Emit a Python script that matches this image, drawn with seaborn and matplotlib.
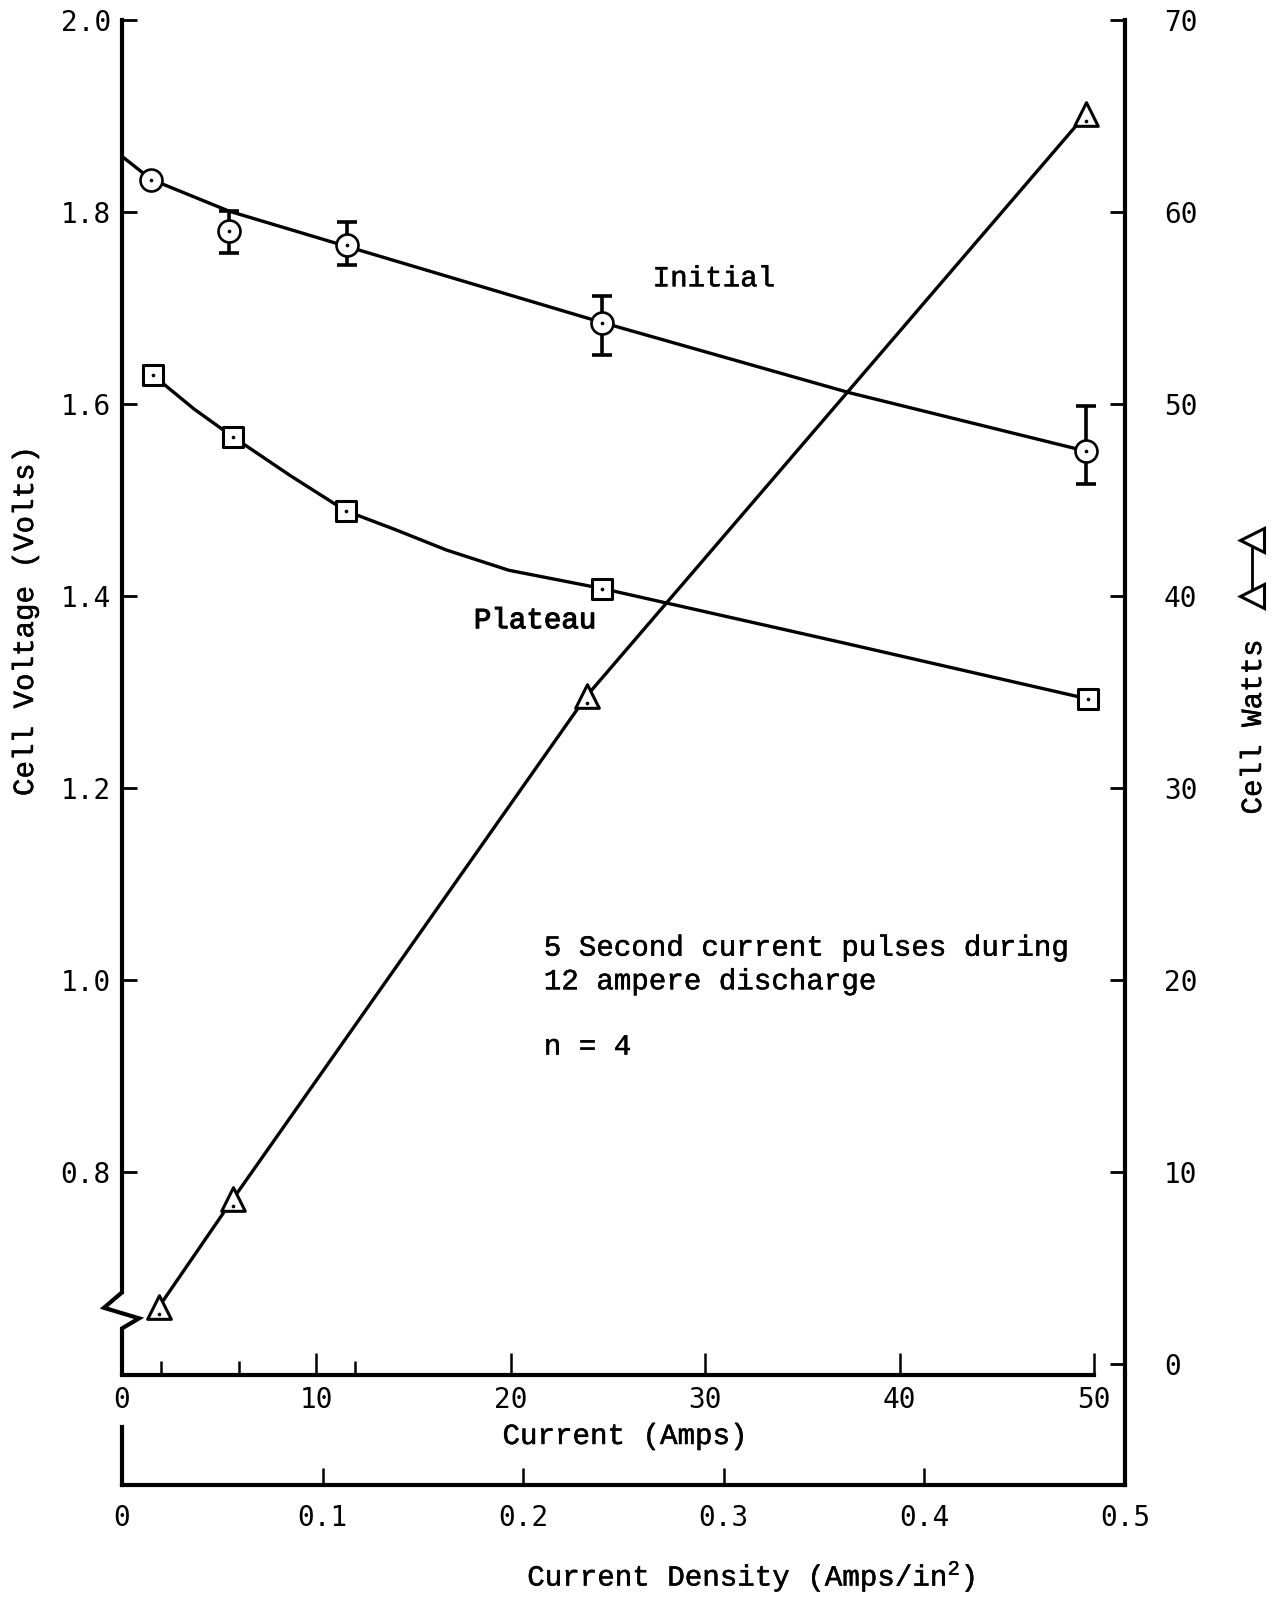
"""
Cell voltage / cell watts vs. pulse current
===========================================
Typewriter-style reproduction of a scanned discharge-pulse chart:
initial and plateau voltage on the left axis, cell watts on the right,
current and current density along the bottom.
"""

import matplotlib
matplotlib.use("Agg")
import matplotlib.pyplot as plt
import matplotlib.patheffects as pe
from matplotlib.lines import Line2D
import seaborn as sns

# ---------------------------------------------------------------------------
# Data
# ---------------------------------------------------------------------------

# Initial voltage (circles) with spread bars
initial_amps = [1.5, 5.5, 11.6, 24.7, 49.6]
initial_volts = [1.833, 1.780, 1.766, 1.684, 1.551]
err_amps = [5.5, 11.6, 24.7, 49.6]
err_mid = [1.780, 1.766, 1.684, 1.551]
err_low = [1.757, 1.745, 1.651, 1.517]
err_high = [1.801, 1.790, 1.713, 1.598]

# hand-drawn curve through the initial points
initial_fit_amps = [0.0, 1.5, 5.5, 11.6, 24.7, 37.4, 49.6]
initial_fit_volts = [1.858, 1.834, 1.801, 1.764, 1.685, 1.612, 1.551]

# Plateau voltage (squares)
plateau_amps = [1.6, 5.7, 11.5, 24.7, 49.7]
plateau_volts = [1.630, 1.566, 1.489, 1.408, 1.293]

plateau_fit_amps = [1.6, 3.7, 5.7, 8.7, 11.5, 14.1, 16.7, 19.9, 24.7, 37.2, 49.7]
plateau_fit_volts = [1.630, 1.595, 1.566, 1.525, 1.489, 1.469, 1.448, 1.427,
                     1.408, 1.351, 1.293]

# Cell watts (triangles)
watts_amps = [1.9, 5.7, 23.9, 49.6]
watts = [3.0, 8.6, 34.8, 65.1]

# Axes
volt_ticks = [0.8, 1.0, 1.2, 1.4, 1.6, 1.8, 2.0]
watt_ticks = [0, 10, 20, 30, 40, 50, 60, 70]
amp_ticks = [0, 10, 20, 30, 40, 50]
amp_marks = [2, 6, 12]
density_ticks = [0, 0.1, 0.2, 0.3, 0.4, 0.5]
density_labels = ["0", "0.1", "0.2", "0.3", "0.4", "0.5"]

note_lines = ["5 Second current pulses during", "12 ampere discharge", "n = 4"]
note_volts = [1.034, 0.999, 0.931]

TYPE = ["Liberation Mono", "DejaVu Sans Mono"]
GOTHIC = ["DejaVu Sans Mono", "DejaVu Sans"]
INK = "black"
LW = 2.4
INKED = [pe.withStroke(linewidth=0.35, foreground=INK)]
TYPE_SIZE = 21

# ---------------------------------------------------------------------------
# Figure
# ---------------------------------------------------------------------------

sns.set_theme(style="ticks", rc={
    "text.color": INK, "axes.labelcolor": INK,
    "xtick.color": INK, "ytick.color": INK, "axes.edgecolor": INK,
})
plt.rcParams["font.family"] = GOTHIC
plt.rcParams["mathtext.fontset"] = "custom"
plt.rcParams["mathtext.rm"] = "Liberation Mono"
plt.rcParams["mathtext.default"] = "rm"

W, H = 1280, 1597
fig = plt.figure(figsize=(W / 100, H / 100), dpi=100)
fig.patch.set_facecolor("white")

ax = fig.add_axes([122 / W, 1 - 1375 / H, 1003 / W, 1355 / H])
ax2 = ax.twinx()
ax_d = fig.add_axes([122 / W, 1 - 1485 / H, 1003 / W, 110 / H])
ax_d.patch.set_alpha(0)

ax.set_xlim(0, 51.6)
ax.set_ylim(0.589, 2.0)
ax2.set_ylim(-0.55, 70)

# --- voltage curves -------------------------------------------------------
sns.lineplot(x=initial_fit_amps, y=initial_fit_volts, ax=ax, color=INK,
             lw=LW, sort=False, estimator=None)
sns.lineplot(x=plateau_fit_amps, y=plateau_fit_volts, ax=ax, color=INK,
             lw=LW, sort=False, estimator=None)

ax.errorbar(err_amps, err_mid,
            yerr=[[m - l for m, l in zip(err_mid, err_low)],
                  [h - m for m, h in zip(err_mid, err_high)]],
            fmt="none", ecolor=INK, elinewidth=2.6,
            capsize=7, capthick=2.6, zorder=3)

sns.scatterplot(x=initial_amps, y=initial_volts, ax=ax, marker="o", s=250,
                color="white", edgecolor=INK, linewidth=1.9, zorder=4)
sns.scatterplot(x=plateau_amps, y=plateau_volts, ax=ax, marker="s", s=200,
                color="white", edgecolor=INK, linewidth=2.2, zorder=4)
for xs, ys in [(initial_amps, initial_volts), (plateau_amps, plateau_volts)]:
    sns.scatterplot(x=xs, y=ys, ax=ax, marker="o", s=7, color=INK,
                    linewidth=0, zorder=5)

# --- watts ---------------------------------------------------------------
sns.lineplot(x=watts_amps, y=watts, ax=ax2, color=INK, lw=LW,
             sort=False, estimator=None)
sns.scatterplot(x=watts_amps, y=watts, ax=ax2, marker="^", s=290,
                color="white", edgecolor=INK, linewidth=2.2, zorder=4)
sns.scatterplot(x=watts_amps, y=[w - 0.35 for w in watts], ax=ax2, marker="o",
                s=7, color=INK, linewidth=0, zorder=5)

# --- annotations ----------------------------------------------------------
ax.text(27.3, 1.731, "Initial", fontsize=TYPE_SIZE, family=TYPE,
        va="center", path_effects=INKED)
ax.text(18.1, 1.375, "Plateau", fontsize=TYPE_SIZE, family=TYPE, va="center",
        path_effects=[pe.withStroke(linewidth=0.8, foreground=INK)])
for line, v in zip(note_lines, note_volts):
    ax.text(21.7, v, line, fontsize=TYPE_SIZE, family=TYPE, va="center",
            path_effects=INKED)

# --- axes styling ---------------------------------------------------------
for s in ["top", "right"]:
    ax.spines[s].set_visible(False)
for s in ["top", "left", "bottom"]:
    ax2.spines[s].set_visible(False)
ax_d.spines["top"].set_visible(False)
for a, names in [(ax, ["left", "bottom"]), (ax2, ["right"]),
                 (ax_d, ["left", "right", "bottom"])]:
    for s in names:
        a.spines[s].set_linewidth(3)

# left axis with a break near the bottom
ax.spines["left"].set_bounds(0.675, 2.0)
ax.plot([0, -0.018, 0.017, 0, 0], [0.675, 0.659, 0.648, 0.6375, 0.589],
        transform=ax.get_yaxis_transform(), color=INK, lw=3,
        clip_on=False, solid_joinstyle="miter")
ax.spines["bottom"].set_bounds(0, 50)

ax.set_yticks(volt_ticks)
ax.set_yticklabels([f"{v:.1f}" for v in volt_ticks])
ax.set_xticks(amp_ticks)
ax.set_xticks(amp_marks, minor=True)
ax.tick_params(axis="y", left=True, direction="in", length=11, width=2,
               pad=8, labelsize=20)
ax.tick_params(axis="x", which="major", bottom=True, direction="in",
               length=16, width=1.8, pad=8, labelsize=20)
ax.tick_params(axis="x", which="minor", bottom=True, direction="in",
               length=10, width=1.8)

ax2.set_yticks(watt_ticks)
ax2.tick_params(axis="y", right=True, left=False, labelright=True,
                labelleft=False, direction="in", length=11, width=2,
                pad=28, labelsize=20)

ax_d.set_xlim(0, 0.5)
ax_d.set_ylim(0, 1)
ax_d.set_yticks([])
ax_d.set_xticks(density_ticks)
ax_d.set_xticklabels(density_labels)
ax_d.spines["left"].set_bounds(0, 0.53)
ax_d.tick_params(axis="x", bottom=True, direction="in", length=12,
                 width=1.8, pad=14, labelsize=20)

# --- axis titles ----------------------------------------------------------
fig.text(25 / W, 1 - 621 / H, "Cell Voltage (Volts)", rotation=90,
         ha="center", va="center", fontsize=TYPE_SIZE, family=TYPE,
         path_effects=INKED)
fig.text(1253 / W, 1 - 727 / H, "Cell Watts", rotation=90,
         ha="center", va="center", fontsize=TYPE_SIZE, family=TYPE,
         path_effects=INKED)
# little "triangle-line-triangle" key after the right-hand title
fig.add_artist(Line2D([1252 / W, 1252 / W], [1 - 596 / H, 1 - 540 / H],
                      transform=fig.transFigure, color=INK, lw=2,
                      marker="<", markersize=17, markerfacecolor="white",
                      markeredgewidth=2.2))
fig.text(625 / W, 1 - 1436 / H, "Current (Amps)", ha="center", va="center",
         fontsize=TYPE_SIZE, family=TYPE, path_effects=INKED)
fig.text(751 / W, 1 - 1576 / H, "Current Density (Amps/in$^{2}$)",
         ha="center", va="center", fontsize=TYPE_SIZE, family=TYPE,
         path_effects=INKED)

fig.savefig("out.png", dpi=100, facecolor="white")
